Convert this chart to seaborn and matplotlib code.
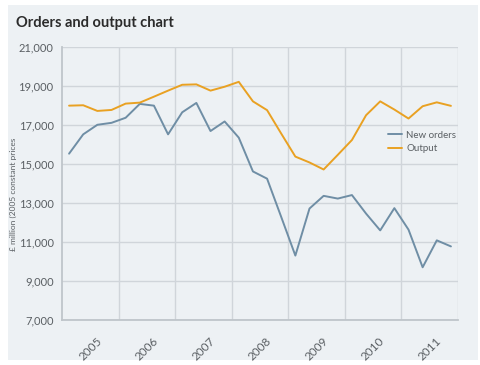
import numpy as np
import pandas as pd
import matplotlib
matplotlib.use("Agg")
import matplotlib.pyplot as plt
from matplotlib.patches import Rectangle
import seaborn as sns

years = ["2005", "2006", "2007", "2008", "2009", "2010", "2011"]
quarters = [f"{y} Q{q}" for y in years for q in range(1, 5)]
new_orders = [15520, 16510, 17000, 17100, 17360, 18070, 17980, 16510,
              17640, 18120, 16680, 17170, 16340, 14610, 14240, 12280,
              10300, 12710, 13360, 13220, 13400, 12450, 11590, 12730,
              11630, 9700, 11080, 10770]
output = [17980, 18000, 17710, 17760, 18085, 18135, 18440, 18750,
          19050, 19070, 18750, 18950, 19200, 18200, 17750, 16550,
          15370, 15070, 14710, 15460, 16220, 17490, 18200, 17780,
          17320, 17950, 18150, 17970]
series_names = ["New orders", "Output"]
yticks = [7000, 9000, 11000, 13000, 15000, 17000, 19000, 21000]

df = pd.DataFrame({
    "quarter": quarters * 2,
    "idx": list(range(len(quarters))) * 2,
    "value": new_orders + output,
    "series": [series_names[0]] * len(quarters) + [series_names[1]] * len(quarters),
})

sns.set_theme(style="white")
plt.rcParams["font.family"] = ["Lato", "DejaVu Sans"]

bg = "#edf1f4"
grid_c = "#d0d5da"
axis_c = "#bfc5ca"
text_c = "#5a5f63"

fig = plt.figure(figsize=(4.8, 3.65), dpi=100, facecolor="white")
W, H = 480, 365
fig.patches.append(Rectangle((8 / W, (H - 360) / H), (478 - 8) / W, (360 - 5) / H,
                             transform=fig.transFigure, facecolor=bg,
                             edgecolor="none", zorder=-10))

ax = fig.add_axes([62 / W, (H - 320) / H, 396 / W, 273.3 / H])
ax.set_facecolor(bg)

sns.lineplot(data=df, x="idx", y="value", hue="series", ax=ax,
             palette={"New orders": "#6f8ea5", "Output": "#e9a122"},
             linewidth=1.4, legend=True)

ax.set_xlim(-0.5, len(quarters) - 0.5)
ax.set_ylim(yticks[0], yticks[-1])
ax.set_yticks(yticks)
ax.set_yticklabels([f"{v:,}" for v in yticks])

major = [3.5 + 4 * k for k in range(len(years))]
minor = [1.5 + 4 * k for k in range(len(years))]
ax.set_xticks(major)
ax.set_xticklabels([])
ax.set_xticks(minor, minor=True)
ax.set_xticklabels(years, minor=True, rotation=45, ha="center", va="top")
ax.tick_params(axis="x", which="major", length=8, width=1, color=grid_c, direction="out")
ax.tick_params(axis="x", which="minor", length=0, pad=11, labelsize=8.5, labelcolor=text_c)
ax.tick_params(axis="y", length=0, pad=6, labelsize=8, labelcolor=text_c)

ax.grid(True, axis="both", which="major", color=grid_c, linewidth=1)
ax.set_axisbelow(True)
for s in ["top", "right"]:
    ax.spines[s].set_visible(False)
ax.spines["left"].set_color(axis_c)
ax.spines["bottom"].set_color(axis_c)
ax.spines["left"].set_linewidth(1.3)
ax.spines["bottom"].set_linewidth(1.3)

ax.set_xlabel("")
ax.set_ylabel("£ million (2005 constant prices", fontsize=6, color=text_c)
ax.yaxis.set_label_coords(-0.114, 0.46)

leg = ax.legend(loc="upper left", bbox_to_anchor=(0.80, 0.725), frameon=False,
                fontsize=7, handlelength=1.5, handletextpad=0.4, labelspacing=0.5)
for t in leg.get_texts():
    t.set_color(text_c)

fig.text(16 / W, 1 - 23 / H, "Orders and output chart", fontsize=10.5,
         fontweight="bold", color="#2b2b2b", va="center", ha="left")

fig.savefig("out.png", dpi=100, facecolor="white")
